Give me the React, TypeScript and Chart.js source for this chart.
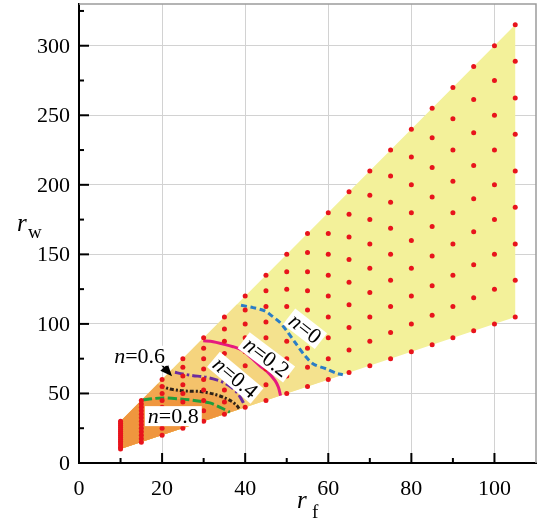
import React, { useEffect, useRef } from "react";
import { Chart, registerables } from "chart.js";
Chart.register(...registerables);

// ---- axes ----
const xTicks = [0, 20, 40, 60, 80, 100];
const xMinorTicks = [10, 30, 50, 70, 90];
const yTicks = [0, 50, 100, 150, 200, 250, 300];
const yMinorTicks = [25, 75, 125, 175, 225, 275, 325];

// ---- sample points (red dots), one column per r_f ----
const colX = [10, 15, 20, 25, 30, 35, 40, 45, 50, 55, 60, 65, 70, 75, 80, 85, 90, 95, 100, 105];
const colY = [
  [10, 11.4, 12.9, 14.3, 15.7, 17.1, 18.6, 20, 21.4, 22.9, 24.3, 25.7, 27.1, 28.6, 30],
  [15, 17.5, 20, 22.5, 25, 27.5, 30, 32.5, 35, 37.5, 40, 42.5, 45],
  [20, 25, 30, 35, 40, 45, 50, 55, 60],
  [25, 31.3, 37.5, 43.8, 50, 56.3, 62.5, 68.8, 75],
  [30, 37.5, 45, 52.5, 60, 67.5, 75, 82.5, 90],
  [35, 43.8, 52.5, 61.3, 70, 78.8, 87.5, 96.3, 105],
  [40, 50, 60, 70, 80, 90, 100, 110, 120],
  [45, 56.3, 67.5, 78.8, 90, 101.3, 112.5, 123.8, 135],
  [50, 62.5, 75, 87.5, 100, 112.5, 125, 137.5, 150],
  [55, 68.8, 82.5, 96.3, 110, 123.8, 137.5, 151.3, 165],
  [60, 75, 90, 105, 120, 135, 150, 165, 180],
  [65, 81.3, 97.5, 113.8, 130, 146.3, 162.5, 178.8, 195],
  [70, 87.5, 105, 122.5, 140, 157.5, 175, 192.5, 210],
  [75, 93.8, 112.5, 131.3, 150, 168.8, 187.5, 206.3, 225],
  [80, 100, 120, 140, 160, 180, 200, 220, 240],
  [85, 106.3, 127.5, 148.8, 170, 191.3, 212.5, 233.8, 255],
  [90, 112.5, 135, 157.5, 180, 202.5, 225, 247.5, 270],
  [95, 118.8, 142.5, 166.3, 190, 213.8, 237.5, 261.3, 285],
  [100, 125, 150, 175, 200, 225, 250, 275, 300],
  [105, 131.3, 157.5, 183.8, 210, 236.3, 262.5, 288.8, 315],
];

// ---- feasible region outline ----
const regionX = [10, 10, 105, 105];
const regionY = [10, 30, 315, 105];

// ---- contour curves ----
const n0X = [39, 41.9, 44.7, 46.4, 48.4, 50, 52, 54.4, 56.4, 59.6, 62, 63.5];
const n0Y = [113.4, 111.7, 109.4, 105.8, 101, 95, 86.7, 77.1, 71.2, 67.6, 64.5, 63.5];
const n02X = [29.9, 32.3, 34.7, 37.1, 39.5, 41.5, 43.5, 45.5, 47.2, 48, 48.5];
const n02Y = [87.8, 87.2, 85.5, 83.6, 80.7, 75.5, 70, 65.2, 59.2, 54.4, 48.5];
const n04X = [23.1, 25, 27.5, 29.9, 32.3, 34.7, 36.7, 38.3, 39.5, 40];
const n04Y = [65.2, 64, 62.8, 62, 60.5, 58, 54.4, 49.7, 43.7, 40];
const n06X = [19.6, 21.7, 24.3, 26.7, 29.1, 32.3, 34.7, 36.7, 38, 38.6];
const n06Y = [55.5, 53.3, 52.1, 51.6, 51.4, 49.7, 47.3, 44.4, 41.3, 38.6];
const n08X = [15.4, 17.8, 20.2, 24.3, 26.7, 29.1, 31.5, 33.1, 34.7, 36.3];
const n08Y = [45.4, 46.3, 46.8, 46.1, 45.4, 44.4, 43.2, 41.3, 39, 36.5];

// where each shaded band meets the upper edge of the region
const bandTopX = [38, 29.3, 22.5, 19, 15.2];
const bandTopY = [114, 88, 67.5, 57, 45.6];

const curveNames = ["0", "0.2", "0.4", "0.6", "0.8"];
const curveXs = [n0X, n02X, n04X, n06X, n08X];
const curveYs = [n0Y, n02Y, n04Y, n06Y, n08Y];

// ---- styles ----
const FONT = "'Liberation Serif', 'Times New Roman', serif";
const regionColor = "#f3f19a";
const bandColors = ["#f4e28e", "#f5d47e", "#f4c26b", "#f1a64f", "#ef963e"];
const curveColors = ["#2a7dc6", "#e6197f", "#6c2c9e", "#2e2218", "#1f9e3c"];
const curveDash = [[6, 3.5], [], [9, 3, 2.5, 3], [4, 2, 2, 2], [9, 3.5]];
const dotColor = "#e8141c";

// label placement (data coordinates of the label centre, rotation in degrees)
const labelPos = [
  { x: 54.4, y: 96.5, rot: 38 },
  { x: 45.1, y: 75.9, rot: 37 },
  { x: 37.6, y: 61.3, rot: 40 },
  { x: 14.6, y: 77.1, rot: 0 },
  { x: 22.7, y: 33.7, rot: 0 },
];
const arrowFrom = { x: 17.4, y: 79.0 };
const arrowTo = { x: 22.4, y: 62.3 };

const pts = (xs: number[], ys: number[]) => xs.map((x, i) => ({ x, y: ys[i] }));

const decor = {
  id: "decor",
  afterDraw(chart: any) {
    const { ctx, chartArea: a } = chart;
    const sx = chart.scales.x;
    const sy = chart.scales.y;
    ctx.save();
    // top/right frame
    ctx.strokeStyle = "#9c9c9c";
    ctx.lineWidth = 1.5;
    ctx.beginPath();
    ctx.moveTo(a.left, a.top);
    ctx.lineTo(a.right, a.top);
    ctx.lineTo(a.right, a.bottom);
    ctx.stroke();
    // inward ticks
    ctx.strokeStyle = "#000";
    ctx.lineWidth = 2;
    const tick = (x1: number, y1: number, x2: number, y2: number) => {
      ctx.beginPath();
      ctx.moveTo(x1, y1);
      ctx.lineTo(x2, y2);
      ctx.stroke();
    };
    xTicks.forEach((v) => { const p = sx.getPixelForValue(v); tick(p, a.bottom, p, a.bottom - 10); });
    xMinorTicks.forEach((v) => { const p = sx.getPixelForValue(v); tick(p, a.bottom, p, a.bottom - 5); });
    yTicks.forEach((v) => { const p = sy.getPixelForValue(v); tick(a.left, p, a.left + 10, p); });
    yMinorTicks.forEach((v) => { const p = sy.getPixelForValue(v); tick(a.left, p, a.left + 5, p); });

    // tick labels
    ctx.fillStyle = "#000";
    ctx.font = `22px ${FONT}`;
    ctx.textBaseline = "middle";
    ctx.textAlign = "center";
    xTicks.forEach((v) => ctx.fillText(String(v), sx.getPixelForValue(v), a.bottom + 26));
    ctx.textAlign = "right";
    yTicks.forEach((v) => ctx.fillText(String(v), a.left - 9, sy.getPixelForValue(v) + 1));

    // axis titles
    ctx.textBaseline = "alphabetic";
    ctx.textAlign = "left";
    ctx.font = `italic 25px ${FONT}`;
    ctx.fillText("r", 17, 231);
    ctx.font = `19px ${FONT}`;
    ctx.fillText("w", 28, 238);
    ctx.font = `italic 25px ${FONT}`;
    ctx.fillText("r", 297, 508);
    ctx.font = `19px ${FONT}`;
    ctx.fillText("f", 312, 518);

    // arrow for n=0.6
    const ax1 = sx.getPixelForValue(arrowFrom.x), ay1 = sy.getPixelForValue(arrowFrom.y);
    const ax2 = sx.getPixelForValue(arrowTo.x), ay2 = sy.getPixelForValue(arrowTo.y);
    const ang = Math.atan2(ay2 - ay1, ax2 - ax1);
    ctx.strokeStyle = "#000";
    ctx.lineWidth = 1.5;
    ctx.beginPath();
    ctx.moveTo(ax1, ay1);
    ctx.lineTo(ax2 - 8 * Math.cos(ang), ay2 - 8 * Math.sin(ang));
    ctx.stroke();
    ctx.beginPath();
    ctx.moveTo(ax2, ay2);
    ctx.lineTo(ax2 - 12 * Math.cos(ang) + 5 * Math.sin(ang), ay2 - 12 * Math.sin(ang) - 5 * Math.cos(ang));
    ctx.lineTo(ax2 - 12 * Math.cos(ang) - 5 * Math.sin(ang), ay2 - 12 * Math.sin(ang) + 5 * Math.cos(ang));
    ctx.closePath();
    ctx.fillStyle = "#000";
    ctx.fill();

    // curve labels
    labelPos.forEach((lp, i) => {
      const px = sx.getPixelForValue(lp.x);
      const py = sy.getPixelForValue(lp.y);
      ctx.save();
      ctx.translate(px, py);
      ctx.rotate((lp.rot * Math.PI) / 180);
      ctx.font = `italic 22px ${FONT}`;
      const wn = ctx.measureText("n").width;
      ctx.font = `22px ${FONT}`;
      const rest = "=" + curveNames[i];
      const wr = ctx.measureText(rest).width;
      const w = wn + wr;
      ctx.fillStyle = "#fff";
      ctx.fillRect(-w / 2 - 3, -10, w + 6, 20);
      ctx.fillStyle = "#000";
      ctx.textBaseline = "middle";
      ctx.textAlign = "left";
      ctx.font = `italic 22px ${FONT}`;
      ctx.fillText("n", -w / 2, 1);
      ctx.font = `22px ${FONT}`;
      ctx.fillText(rest, -w / 2 + wn, 1);
      ctx.restore();
    });
    ctx.restore();
  },
};

export default function App() {
  const ref = useRef<HTMLCanvasElement | null>(null);
  useEffect(() => {
    if (!ref.current) return;
    const dots: { x: number; y: number }[] = [];
    colX.forEach((x, i) => colY[i].forEach((y) => dots.push({ x, y })));

    const datasets: any[] = [];
    datasets.push({
      label: "dots",
      data: dots,
      showLine: false,
      pointRadius: 2.5,
      pointBackgroundColor: dotColor,
      pointBorderWidth: 0,
      order: 0,
    });
    curveXs.forEach((xs, i) => {
      datasets.push({
        label: "n=" + curveNames[i],
        data: pts(xs, curveYs[i]),
        borderColor: curveColors[i],
        borderWidth: 3,
        borderDash: curveDash[i],
        pointRadius: 0,
        tension: 0.3,
        fill: false,
        order: 1 + i,
      });
    });
    curveXs.forEach((xs, i) => {
      const poly = [
        { x: regionX[0], y: regionY[0] },
        { x: regionX[1], y: regionY[1] },
        { x: bandTopX[i], y: bandTopY[i] },
        ...pts(xs, curveYs[i]),
      ];
      datasets.push({
        label: "band" + i,
        data: poly,
        backgroundColor: bandColors[i],
        borderWidth: 0,
        pointRadius: 0,
        tension: 0,
        fill: "shape",
        order: 14 - i, // inner bands drawn on top
      });
    });
    datasets.push({
      label: "region",
      data: pts(regionX, regionY),
      backgroundColor: regionColor,
      borderWidth: 0,
      pointRadius: 0,
      tension: 0,
      fill: "shape",
      order: 20,
    });

    const chart = new Chart(ref.current, {
      type: "line",
      data: { datasets },
      plugins: [decor],
      options: {
        responsive: false,
        animation: false,
        events: [],
        layout: { padding: { top: 2, right: 4, left: 0, bottom: 0 } },
        plugins: { legend: { display: false }, tooltip: { enabled: false } },
        scales: {
          x: {
            type: "linear",
            min: 0,
            max: 110,
            afterBuildTicks: (s: any) => { s.ticks = xTicks.map((v) => ({ value: v })); },
            afterFit: (s: any) => { s.height = 56; s.paddingLeft = 0; s.paddingRight = 0; },
            grid: { color: "#d2d2d2", lineWidth: 1, drawTicks: false },
            border: { display: true, color: "#000", width: 2 },
            ticks: { display: false },
          },
          y: {
            type: "linear",
            min: 0,
            max: 330,
            afterBuildTicks: (s: any) => { s.ticks = yTicks.map((v) => ({ value: v })); },
            afterFit: (s: any) => { s.width = 79; s.paddingTop = 0; s.paddingBottom = 0; },
            grid: { color: "#d2d2d2", lineWidth: 1, drawTicks: false },
            border: { display: true, color: "#000", width: 2 },
            ticks: { display: false },
          },
        },
      } as any,
    });
    return () => chart.destroy();
  }, []);
  return (
    <div style={{ position: "absolute", left: 0, top: 0, width: 540, height: 519, background: "#fff" }}>
      <canvas ref={ref} width={540} height={519} />
    </div>
  );
}
